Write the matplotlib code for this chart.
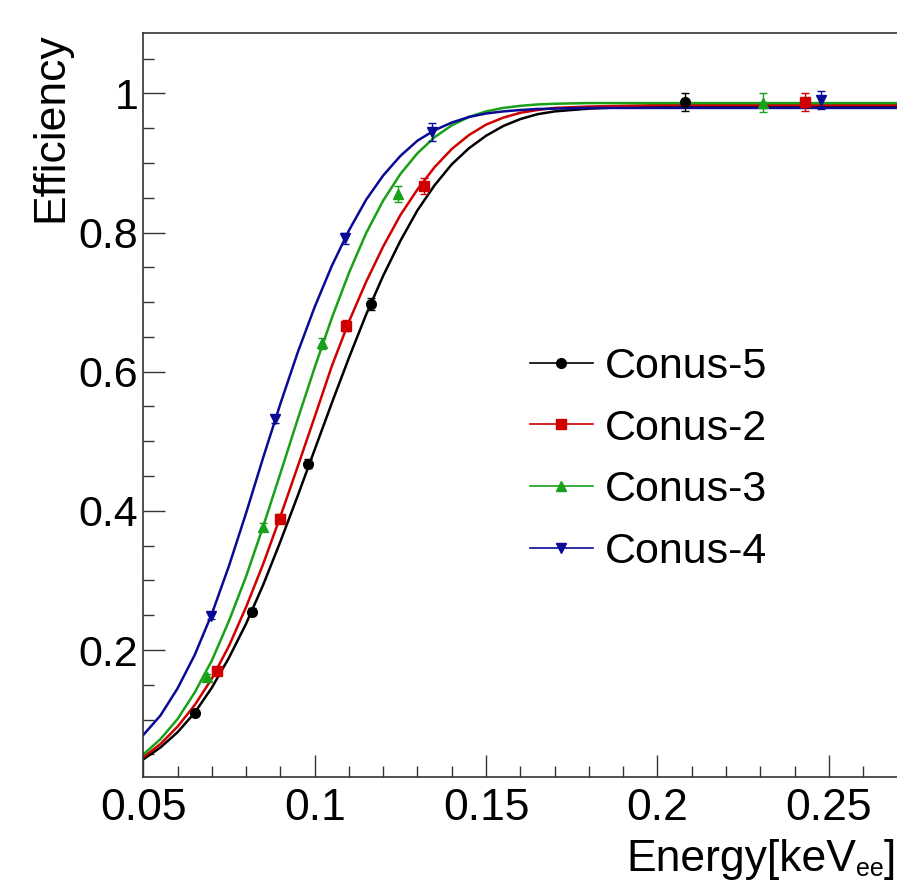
import matplotlib
matplotlib.use("Agg")
import matplotlib.pyplot as plt
from matplotlib.lines import Line2D
from matplotlib.ticker import MultipleLocator, FixedLocator, FuncFormatter

plt.rcParams['font.family'] = ['Liberation Sans', 'DejaVu Sans']

# ---------------- data ----------------
labels = ["Conus-5", "Conus-2", "Conus-3", "Conus-4"]
colors = ["#000000", "#d00000", "#18a018", "#0a0a96"]
markers = ["o", "s", "^", "v"]
msizes = [7.0, 7.6, 7.2, 7.6]

x_c5 = [0.0651, 0.0818, 0.0981, 0.1164, 0.2080]
y_c5 = [0.109, 0.255, 0.468, 0.697, 0.988]
e_c5 = [0.004, 0.005, 0.006, 0.009, 0.013]

x_c2 = [0.0716, 0.0899, 0.1091, 0.1320, 0.2430]
y_c2 = [0.170, 0.389, 0.666, 0.867, 0.988]
e_c2 = [0.004, 0.006, 0.008, 0.0115, 0.013]

x_c3 = [0.0685, 0.0848, 0.1020, 0.1242, 0.2309]
y_c3 = [0.162, 0.377, 0.641, 0.856, 0.9865]
e_c3 = [0.004, 0.006, 0.008, 0.0115, 0.0137]

x_c4 = [0.0698, 0.0884, 0.1088, 0.1341, 0.2476]
y_c4 = [0.249, 0.532, 0.792, 0.945, 0.990]
e_c4 = [0.005, 0.006, 0.008, 0.013, 0.013]

# fitted curves
fit_x = [0.05, 0.055, 0.06, 0.065, 0.07, 0.075, 0.08, 0.085, 0.09, 0.095,
         0.10, 0.105, 0.11, 0.115, 0.12, 0.125, 0.13, 0.135, 0.14, 0.145,
         0.15, 0.155, 0.16, 0.165, 0.17, 0.18, 0.19, 0.20, 0.27]
fit_c5 = [0.043, 0.060, 0.082, 0.110, 0.146, 0.189, 0.238, 0.294, 0.356, 0.421,
          0.488, 0.555, 0.620, 0.682, 0.738, 0.788, 0.832, 0.868, 0.898, 0.921,
          0.939, 0.953, 0.963, 0.970, 0.974, 0.978, 0.980, 0.981, 0.981]
fit_c2 = [0.046, 0.065, 0.090, 0.121, 0.159, 0.206, 0.262, 0.324, 0.392, 0.463,
          0.535, 0.608, 0.672, 0.729, 0.780, 0.825, 0.862, 0.894, 0.920, 0.940,
          0.955, 0.965, 0.972, 0.976, 0.979, 0.981, 0.982, 0.983, 0.983]
fit_c3 = [0.050, 0.072, 0.101, 0.139, 0.185, 0.242, 0.306, 0.378, 0.454, 0.531,
          0.606, 0.677, 0.742, 0.799, 0.846, 0.884, 0.914, 0.937, 0.954, 0.966,
          0.974, 0.979, 0.982, 0.984, 0.985, 0.986, 0.986, 0.986, 0.986]
fit_c4 = [0.078, 0.106, 0.145, 0.193, 0.252, 0.321, 0.397, 0.477, 0.554, 0.627,
          0.693, 0.752, 0.803, 0.847, 0.882, 0.910, 0.932, 0.947, 0.958, 0.966,
          0.971, 0.974, 0.976, 0.9775, 0.978, 0.979, 0.979, 0.979, 0.979]

xs = [x_c5, x_c2, x_c3, x_c4]
ys = [y_c5, y_c2, y_c3, y_c4]
es = [e_c5, e_c2, e_c3, e_c4]
fits = [fit_c5, fit_c2, fit_c3, fit_c4]

x_ticks = [0.05, 0.1, 0.15, 0.2, 0.25]
y_ticks = [0.2, 0.4, 0.6, 0.8, 1.0]

# ---------------- figure ----------------
W, H = 897, 882
fig = plt.figure(figsize=(W / 100, H / 100), dpi=100)
ax = fig.add_axes([143.3 / W, (H - 777.3) / H, (W - 143.3) / W, (777.3 - 32.7) / H])
ax.set_xlim(0.05, 0.2699)
ax.set_ylim(0.0172, 1.0871)

for fy, c in zip(fits, colors):
    ax.plot(fit_x, fy, color=c, lw=1.8, zorder=2, solid_joinstyle='round')

for x, y, e, c, m, ms in zip(xs, ys, es, colors, markers, msizes):
    ax.errorbar(x, y, yerr=e, fmt=m, color=c, ms=ms, mec=c, mfc=c,
                elinewidth=1.0, capsize=2.6, capthick=1.0, zorder=3)

for s in ['top', 'left', 'bottom']:
    ax.spines[s].set_color('#333333')
    ax.spines[s].set_linewidth(1.2)
ax.spines['right'].set_visible(False)

ax.xaxis.set_major_locator(FixedLocator(x_ticks))
ax.xaxis.set_minor_locator(MultipleLocator(0.01))
ax.yaxis.set_major_locator(FixedLocator(y_ticks))
ax.yaxis.set_minor_locator(MultipleLocator(0.05))
fmt = FuncFormatter(lambda v, p: f"{v:g}")
ax.xaxis.set_major_formatter(fmt)
ax.yaxis.set_major_formatter(fmt)
ax.tick_params(which='both', direction='in', top=False, right=False,
               color='#333333', width=1.0)
ax.tick_params(which='major', length=15.8)
ax.tick_params(which='minor', length=7.6)
ax.tick_params(axis='x', which='major', labelsize=32, pad=7.5)
ax.tick_params(axis='y', which='major', labelsize=31, pad=3.5)

ax.set_ylabel("Efficiency", fontsize=32, loc='top')
ax.yaxis.set_label_coords(-0.0954, 1.0)

# x-axis title: "Energy[keV" + subscript "ee" + "]"
renderer = fig.canvas.get_renderer()
t1 = fig.text(626.0 / W, (H - 871) / H, "Energy[keV", fontsize=32,
              ha='left', va='baseline')
x1 = t1.get_window_extent(renderer).x1
t2 = fig.text(x1 / W, (H - 876) / H, "ee", fontsize=18,
              ha='left', va='baseline')
x2 = t2.get_window_extent(renderer).x1
fig.text(x2 / W, (H - 871) / H, "]", fontsize=32, ha='left', va='baseline')

handles = [Line2D([], [], color=c, marker=m, ms=ms, lw=1.2, mec=c, mfc=c)
           for c, m, ms in zip(colors, markers, msizes)]
ax.legend(handles, labels, loc='upper left',
          bbox_to_anchor=(530 / W, (H - 347) / H), bbox_transform=fig.transFigure,
          frameon=False, fontsize=31, handlelength=1.46, handletextpad=0.28,
          labelspacing=0.5, borderpad=0, borderaxespad=0, numpoints=1)

fig.savefig("out.png", dpi=100)
